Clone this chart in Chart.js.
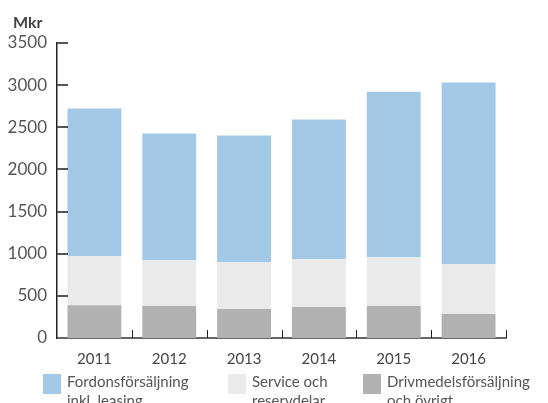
<!DOCTYPE html>
<html><head><meta charset="utf-8">
<script src="https://cdn.jsdelivr.net/npm/chart.js@4"></script>
<style>
html,body{margin:0;padding:0;background:#fff;}
#wrap{position:relative;width:548px;height:403px;overflow:hidden;font-family:Lato,"Open Sans",sans-serif;}
#unit{position:absolute;left:13px;top:12px;font-size:16px;font-weight:bold;color:#444;}
.leg{position:absolute;top:372px;display:flex;align-items:flex-start;font-size:15px;line-height:19px;color:#555;}
.leg .sw{width:18px;height:20px;margin-right:6px;margin-top:2px;flex:none;}
</style></head>
<body><div id="wrap"><canvas id="c" width="548" height="403"></canvas><div id="unit">Mkr</div></div>
<script>
const categories = ['2011','2012','2013','2014','2015','2016'];
const fuelOther = [390, 379, 343, 367, 379, 284];
const serviceParts = [584, 544, 556, 568, 580, 592];
const vehicleSales = [1750, 1503, 1503, 1657, 1964, 2154];
const seriesLabels = [['Fordonsförsäljning','inkl. leasing'], ['Service och','reservdelar'], ['Drivmedelsförsäljning','och övrigt']];
const yTicks = [0, 500, 1000, 1500, 2000, 2500, 3000, 3500];
const colors = ['#a2c8e6', '#eaeaea', '#b1b1b1'];

const tickPlugin = {
  id: 'inTicks',
  afterDatasetsDraw(chart) {
    const ctx = chart.ctx, y = chart.scales.y, a = chart.chartArea;
    ctx.save();
    ctx.strokeStyle = '#555'; ctx.lineWidth = 2;
    yTicks.forEach(v => { if (v === 0) return; const py = Math.round(y.getPixelForValue(v)); ctx.beginPath(); ctx.moveTo(a.left, py); ctx.lineTo(a.left + 11, py); ctx.stroke(); });
    ctx.strokeStyle = '#222'; ctx.lineWidth = 1;
    const step = (a.right - a.left) / categories.length;
    for (let i = 1; i <= categories.length; i++) { const px = Math.round(a.left + i * step) + 0.5; ctx.beginPath(); ctx.moveTo(px, a.bottom); ctx.lineTo(px, a.bottom - 8); ctx.stroke(); }
    ctx.restore();
  }
};

const chart = new Chart(document.getElementById('c'), {
  type: 'bar',
  data: {
    labels: categories,
    datasets: [
      { label: seriesLabels[2].join(' '), data: fuelOther, backgroundColor: colors[2] },
      { label: seriesLabels[1].join(' '), data: serviceParts, backgroundColor: colors[1] },
      { label: seriesLabels[0].join(' '), data: vehicleSales, backgroundColor: colors[0] }
    ]
  },
  options: {
    responsive: false, animation: false,
    layout: { padding: { top: 43, right: 42, left: 0, bottom: 0 } },
    datasets: { bar: { categoryPercentage: 0.72, barPercentage: 1 } },
    plugins: { legend: { display: false }, tooltip: { enabled: false } },
    scales: {
      x: { stacked: true, grid: { display: false }, border: { color: '#666', width: 2 },
           ticks: { font: { family: 'Lato', size: 15 }, color: '#444', padding: 4 },
           afterFit(s) { s.height = 65; } },
      y: { stacked: true, min: 0, max: 3500, grid: { display: false }, border: { color: '#222', width: 1.5 },
           afterBuildTicks(s) { s.ticks = yTicks.map(v => ({ value: v })); },
           ticks: { font: { family: 'Lato', size: 17 }, color: '#555', padding: 2, callback: v => String(v) },
           afterFit(s) { s.width = 57; } }
    }
  },
  plugins: [tickPlugin]
});

const wrap = document.getElementById('wrap');
const legX = [43, 228, 363];
seriesLabels.forEach((lab, i) => {
  const d = document.createElement('div'); d.className = 'leg'; d.style.left = legX[i] + 'px';
  const sw = document.createElement('div'); sw.className = 'sw'; sw.style.background = colors[i];
  const t = document.createElement('div'); t.innerHTML = lab.join('<br>');
  d.appendChild(sw); d.appendChild(t); wrap.appendChild(d);
});
</script></body></html>
